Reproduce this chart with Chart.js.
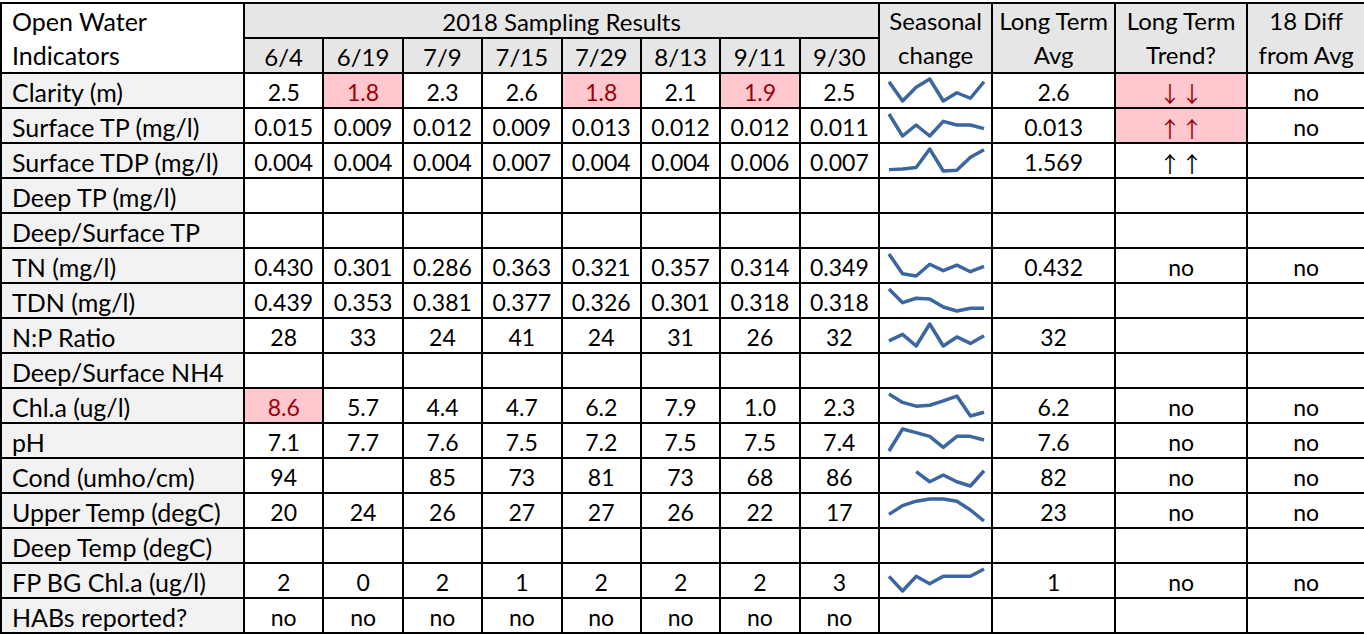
<!DOCTYPE html>
<html>
<head>
<meta charset="utf-8">
<script src="https://cdn.jsdelivr.net/npm/chart.js@4.4.1/dist/chart.umd.min.js"></script>
<style>
body { margin: 0; background: #fff; }
#tabela {
    position: absolute; left: 0; top: 2px;
    border-collapse: collapse; table-layout: fixed; width: 1364px;
    font-family: Lato, "Open Sans", sans-serif; font-size: 23px; color: #000;
}
#tabela td {
    border: 2px solid #000; padding: 3px 0 0 0; height: 30px;
    text-align: center; white-space: nowrap; overflow: hidden; line-height: 30px;
}
#tabela td.rotulo { text-align: left; padding-left: 10px; background: #f2f2f2; font-size: 25px; }
#tabela td.cab { background: #e7e6e6; font-size: 24px; }
#tabela td.cab2 { background: #e7e6e6; padding-top: 0; height: auto; line-height: 34px; font-size: 24px; }
#tabela td.topo { text-align: left; padding: 0 0 0 10px; height: auto; background: #fff; line-height: 34px; font-size: 25px; }
#tabela td.alerta { background: #ffc7ce; color: #9c0006; }
#tabela td.seta { font-family: "Noto Sans CJK SC", "DejaVu Sans", sans-serif; font-size: 22px; }
#tabela td.spark { padding: 0; height: 33px; }
#tabela td.spark canvas { display: block; }
</style>
</head>
<body>
<table id="tabela"></table>
<script>
// Datas de amostragem
const datas = ["6/4", "6/19", "7/9", "7/15", "7/29", "8/13", "9/11", "9/30"];

// Indicadores (linhas)
const indicadores = [
    "Clarity (m)", "Surface TP (mg/l)", "Surface TDP (mg/l)", "Deep TP (mg/l)",
    "Deep/Surface TP", "TN (mg/l)", "TDN (mg/l)", "N:P Ratio", "Deep/Surface NH4",
    "Chl.a (ug/l)", "pH", "Cond (umho/cm)", "Upper Temp (degC)", "Deep Temp (degC)",
    "FP BG Chl.a (ug/l)", "HABs reported?"
];

// Valores de cada indicador
const clarity = [2.5, 1.8, 2.3, 2.6, 1.8, 2.1, 1.9, 2.5];
const surfaceTP = [0.015, 0.009, 0.012, 0.009, 0.013, 0.012, 0.012, 0.011];
const surfaceTDP = [0.0040, 0.0041, 0.0043, 0.0070, 0.0038, 0.0039, 0.0058, 0.0069];
const tn = [0.430, 0.301, 0.286, 0.363, 0.321, 0.357, 0.314, 0.349];
const tdn = [0.439, 0.353, 0.381, 0.377, 0.326, 0.301, 0.318, 0.318];
const npRatio = [28, 33, 24, 41, 24, 31, 26, 32];
const chla = [8.6, 5.7, 4.4, 4.7, 6.2, 7.9, 1.0, 2.3];
const ph = [7.1, 7.7, 7.6, 7.5, 7.2, 7.5, 7.5, 7.4];
const cond = [94, null, 85, 73, 81, 73, 68, 86];
const upperTemp = [20, 24, 26, 27, 27, 26, 22, 17];
const fpBgChla = [2, 0, 2, 1, 2, 2, 2, 3];
const habs = ["no", "no", "no", "no", "no", "no", "no", "no"];

// Colunas da direita
const mediaLongoPrazo = ["2.6", "0.013", "1.569", "", "", "0.432", "", "32", "", "6.2", "7.6", "82", "23", "", "1", ""];
const tendencia = ["↓↓", "↑↑", "↑↑", "", "", "no", "", "", "", "no", "no", "no", "no", "", "no", ""];
const difMedia = ["no", "no", "", "", "", "no", "", "", "", "no", "no", "no", "no", "", "no", ""];

// Séries por linha (null = sem dados) e casas decimais
const series = [clarity, surfaceTP, surfaceTDP, null, null, tn, tdn, npRatio, null, chla, ph, cond, upperTemp, null, fpBgChla, habs];
const decimais = [1, 3, 3, 0, 0, 3, 3, 0, 0, 1, 1, 0, 0, 0, 0, 0];

// Células destacadas em vermelho
const destaques = { 0: [1, 4, 6], 9: [0] };
const tendenciaAlerta = [0, 1];

const corSpark = "#3b66a0";

function celula(tr, texto, classe, extra) {
    const td = document.createElement("td");
    td.innerHTML = texto;
    if (classe) td.className = classe;
    if (extra) Object.assign(td, extra);
    tr.appendChild(td);
    return td;
}

function montarTabela() {
    const tabela = document.getElementById("tabela");
    const cg = document.createElement("colgroup");
    [243, 79.375, 79.375, 79.375, 79.375, 79.375, 79.375, 79.375, 79.375, 113, 123, 132, 118].forEach(w => {
        const c = document.createElement("col");
        c.style.width = w + "px";
        cg.appendChild(c);
    });
    tabela.appendChild(cg);

    // Cabeçalho
    const h1 = document.createElement("tr");
    celula(h1, "Open Water<br>Indicators", "topo", { rowSpan: 2 });
    celula(h1, "2018 Sampling Results", "cab", { colSpan: 8 });
    celula(h1, "Seasonal<br>change", "cab2", { rowSpan: 2 });
    celula(h1, "Long Term<br>Avg", "cab2", { rowSpan: 2 });
    celula(h1, "Long Term<br>Trend?", "cab2", { rowSpan: 2 });
    celula(h1, "18 Diff<br>from Avg", "cab2", { rowSpan: 2 });
    tabela.appendChild(h1);
    const h2 = document.createElement("tr");
    datas.forEach(d => celula(h2, d, "cab"));
    tabela.appendChild(h2);

    const canvases = [];
    indicadores.forEach((nome, i) => {
        const tr = document.createElement("tr");
        celula(tr, nome, "rotulo");
        const vals = series[i];
        for (let j = 0; j < datas.length; j++) {
            let txt = "";
            if (vals && vals[j] !== null) {
                txt = typeof vals[j] === "number" ? vals[j].toFixed(decimais[i]) : vals[j];
            }
            const marcado = destaques[i] && destaques[i].includes(j);
            celula(tr, txt, marcado ? "alerta" : "");
        }
        const tdSpark = celula(tr, "", "spark");
        if (vals && typeof vals[0] === "number") {
            const cv = document.createElement("canvas");
            cv.width = 111;
            cv.height = 33;
            tdSpark.appendChild(cv);
            canvases.push({ cv, vals });
        }
        celula(tr, mediaLongoPrazo[i]);
        let classeTend = tendenciaAlerta.includes(i) ? "alerta" : "";
        if (tendencia[i].includes("↑") || tendencia[i].includes("↓")) classeTend += " seta";
        celula(tr, tendencia[i], classeTend);
        celula(tr, difMedia[i]);
        tabela.appendChild(tr);
    });
    return canvases;
}

// Minigráficos (sparklines) da coluna "Seasonal change"
function desenharSparklines(lista) {
    lista.forEach(({ cv, vals }) => {
        const validos = vals.filter(v => v !== null);
        new Chart(cv, {
            type: "line",
            data: {
                labels: datas,
                datasets: [{
                    data: vals,
                    borderColor: corSpark,
                    borderWidth: 3.5,
                    pointRadius: 0,
                    tension: 0,
                    spanGaps: false,
                    borderCapStyle: "butt",
                    borderJoinStyle: "round",
                    clip: false
                }]
            },
            options: {
                responsive: false,
                animation: false,
                events: [],
                layout: { padding: { left: 9, right: 7, top: 5, bottom: 6 } },
                plugins: { legend: { display: false }, tooltip: { enabled: false } },
                scales: {
                    x: { display: false },
                    y: { display: false, min: Math.min(...validos), max: Math.max(...validos) }
                }
            }
        });
    });
}

desenharSparklines(montarTabela());
</script>
</body>
</html>
